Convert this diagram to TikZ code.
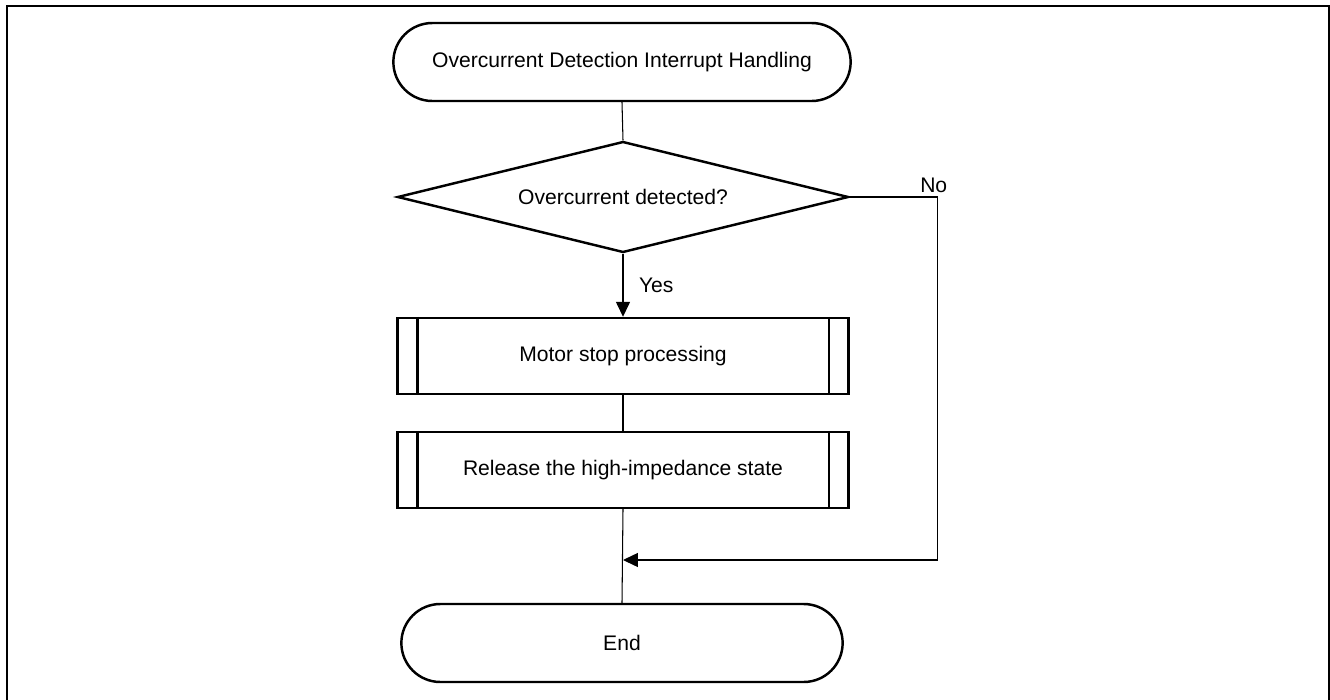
\documentclass[tikz,border=0pt]{standalone}
\usepackage{fontspec}
\setmainfont{Liberation Sans}
\usetikzlibrary{shapes.geometric,shapes.misc,arrows.meta}

\begin{document}
\begin{tikzpicture}[x=0.02cm, y=-0.02cm,
    every node/.style={font=\fontsize{12}{14}\selectfont},
    terminal/.style={rounded rectangle, draw, line width=1.4pt, minimum height=78*\px},
    decision/.style={diamond, draw, line width=1.4pt, inner sep=0pt, aspect=4.06,
        minimum width=451*\px, minimum height=111*\px},
    subproc/.style={rectangle, draw, line width=1.4pt,
        minimum width=451*\px, minimum height=76*\px},
    flow/.style={line width=0.6pt},
    flowarrow/.style={flow, -{Triangle[length=8.5pt,width=8pt]}},
    flowlabel/.style={inner sep=2pt}]
    % constants
    \def\px{0.02cm}
    \def\barinset{21}
    % page and frame
    \useasboundingbox (0,0) rectangle (1330,700);
    \draw [line width=1.7pt] (7,6) rectangle (1329,704);
    % flow nodes
    \node [terminal, minimum width=469*\px] (start) at (622,62)
        {Overcurrent Detection Interrupt Handling};
    \node [decision] (detected) at (623,197) {Overcurrent detected?};
    \node [subproc] (stop) at (623,356) {Motor stop processing};
    \node [subproc] (release) at (623,470) {Release the high-impedance state};
    \node [terminal, minimum width=453*\px] (end) at (622,643) {End};
    % merge point of the No branch
    \coordinate (merge) at (623,560);
    % side bars of the subroutine boxes
    \foreach \n in {stop,release} {
        \draw [line width=1.4pt] ([xshift=\barinset*\px]\n.north west) -- ([xshift=\barinset*\px]\n.south west);
        \draw [line width=1.4pt] ([xshift=-\barinset*\px]\n.north east) -- ([xshift=-\barinset*\px]\n.south east);
    }
    % connectors
    \draw [flow] (start.south) -- (detected.north);
    \draw [flowarrow] (detected.south) -- node [flowlabel, right, xshift=12*\px] {Yes} (stop.north);
    \draw [flow] (stop.south) -- (release.north);
    \draw [flow] (release.south) -- (end.north);
    \draw [flowarrow] (detected.east) -- ++(88,0) node [flowlabel, above, xshift=-4*\px] {No} |- (merge);
\end{tikzpicture}
\end{document}
